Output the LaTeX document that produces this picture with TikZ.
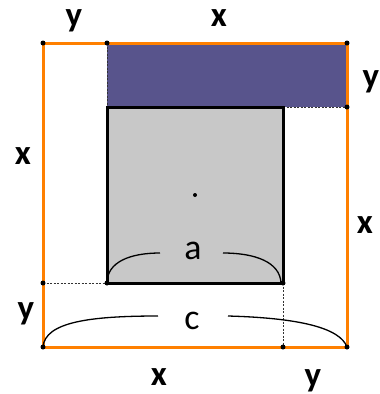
\documentclass[tikz,border=0pt]{standalone}
\usepackage{fontspec}
\setmainfont{Carlito}
\definecolor{orng}{RGB}{255,128,0}
\definecolor{blu}{RGB}{88,84,140}
\definecolor{gry}{RGB}{200,200,200}
\begin{document}
\begin{tikzpicture}[x=1bp,y=-1bp,
  lbl/.style={font=\fontsize{35}{35}\selectfont\bfseries,anchor=base,inner sep=0pt},
  let/.style={font=\fontsize{36}{36}\selectfont,anchor=base,inner sep=0pt},
  dot/.style={circle,fill=black,inner sep=0pt,minimum size=5bp},
  dsh/.style={gray!40!black,line width=0.7bp,dash pattern=on 2bp off 1.5bp},
  brace/.style={line width=1.3bp,black}]
\useasboundingbox (0,0) rectangle (380,394);
% coordinates
\coordinate (O1) at (43,43);
\coordinate (O2) at (347,43);
\coordinate (O3) at (347,347);
\coordinate (O4) at (43,347);
\coordinate (B1) at (107,43);
\coordinate (B2) at (347,107);
\coordinate (G1) at (107,107);
\coordinate (G2) at (283,107);
\coordinate (G3) at (283,283);
\coordinate (G4) at (107,283);
\coordinate (L1) at (43,283);
\coordinate (L2) at (283,347);
\coordinate (C) at (195,195);
% fills
\fill[blu] (B1) rectangle (B2);
\fill[gry] (G1) rectangle (G3);
% dashed
\draw[dsh] (B1) -- (G1);
\draw[dsh] (G2) -- (B2);
\draw[dsh] (L1) -- (G4);
\draw[dsh] (G3) -- (L2);
% gray square border
\draw[line width=3bp,line join=miter] (G1) rectangle (G3);
% orange square
\draw[orng,line width=3bp] (O1) rectangle (O3);
% dots
\foreach \p in {O1,O2,O3,O4,B1,B2,G4,G3,L1,L2}{\node[dot] at (\p) {};}
\node[dot,minimum size=4bp] at (C) {};
% braces
\draw[brace] (G4) .. controls (107,262) and (130,253) .. (160,253);
\draw[brace] (223,253) .. controls (255,253) and (280,262) .. (281,283);
\draw[brace] (O4) .. controls (45,322) and (90,316) .. (158,316);
\draw[brace] (228,316) .. controls (300,318) and (340,328) .. (O3);
% labels
\node[lbl] (ly1) at (74,26) {y};
\node[lbl] (lx1) at (219,26) {x};
\node[lbl] (ly2) at (371,87) {y};
\node[lbl] (lx2) at (23,164) {x};
\node[lbl] (lx3) at (365,233) {x};
\node[lbl] (ly3) at (26,319) {y};
\node[lbl] (lx4) at (159,385) {x};
\node[lbl] (ly4) at (313,386) {y};
\node[let] (la) at (193,259) {a};
\node[let] (lc) at (192,329) {c};
\end{tikzpicture}
\end{document}
